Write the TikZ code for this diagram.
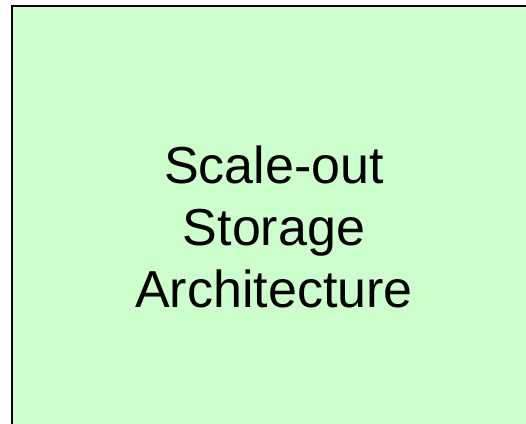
\documentclass[tikz,border=0pt]{standalone}
\usepackage{fontspec}
\setmainfont{Liberation Sans}
\definecolor{panelgreen}{HTML}{CCFFCC}
\tikzset{
  panel/.style={draw=black, line width=2.2pt, fill=panelgreen},
  title/.style={font=\fontsize{52}{62}\selectfont, align=center, inner sep=0pt}
}
\begin{document}
\begin{tikzpicture}[x=1pt,y=1pt]
  \useasboundingbox (0,0) rectangle (526,423);
  \begin{scope}
    \clip (0,0) rectangle (526,423);
    % panel continues past the right and bottom edges
    \path[panel] (12,417) rectangle (560,-30);
  \end{scope}
  % base anchor sits on the last line's baseline
  \node[title, anchor=base] (label) at (274,116) {Scale-out\\Storage\\Architecture};
\end{tikzpicture}
\end{document}
